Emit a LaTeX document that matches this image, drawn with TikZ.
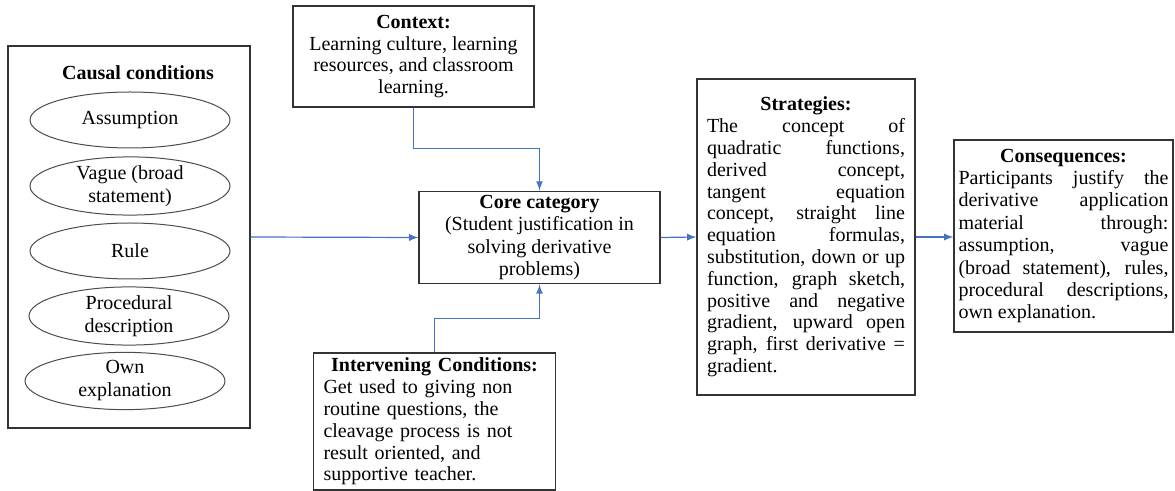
\documentclass[tikz,border=0pt]{standalone}
\usepackage{fontspec}
\setmainfont{Liberation Serif}
\usetikzlibrary{positioning,shapes.geometric}
\setlength{\parindent}{0pt}
\definecolor{arrowblue}{RGB}{68,114,196}

\tikzset{
  box/.style={draw=black!80,line width=0.6pt,inner xsep=5pt,inner ysep=2pt},
  oval/.style={ellipse,draw=black!70,line width=0.5pt,minimum width=100pt,
    minimum height=28pt,inner sep=0pt,align=center},
  flow/.style={->,>=latex,draw=arrowblue,line width=0.6pt}
}

\begin{document}
\begin{tikzpicture}[x=0.5pt,y=-0.5pt,font=\fontsize{10}{10.9}\selectfont]
\useasboundingbox (0,0) rectangle (1175,491);
\node[box,minimum width=121pt,minimum height=191pt] (causal) at (129,237) {};
\node (causaltitle) at (138,73) {\textbf{Causal conditions}};
\foreach \x/\y/\txt [count=\i] in {130/120/{Assumption},130/186/{Vague (broad\\statement)},
  130/251/{Rule},129/316/{Procedural\\description},125/381/{Own\\explanation}}
 \node[oval,font=\fontsize{10}{11.5}\selectfont] (cc\i) at (\x,\y) {\txt};
\node[box,minimum width=120.5pt,minimum height=50.5pt,align=center] (context) at (413.5,56.5)
 {\textbf{Context:}\\Learning culture, learning\\resources, and classroom\\learning.};
\node[box,minimum width=120.5pt,minimum height=45.5pt,align=center,
 font=\fontsize{10}{11.2}\selectfont] (core) at (539.5,237.5)
 {\textbf{Core category}\\(Student justification in\\solving derivative\\problems)};
\node[box,text width=111pt,minimum height=68.5pt,align=left] (interv) at (434.5,421.5)
 {\hfill\textbf{Intervening Conditions:}\hfill\null\\Get used to giving non\\routine questions, the\\cleavage process is not\\result oriented, and\\supportive teacher.};
\node[box,text width=99pt,minimum height=158pt,align=justify] (strat) at (806,237)
 {\hfill\textbf{Strategies:}\hfill\null\linebreak
 The concept of\linebreak quadratic functions,\linebreak derived concept,\linebreak
 tangent equation\linebreak concept, straight line\linebreak equation formulas,\linebreak
 substitution, down or up\linebreak function, graph sketch,\linebreak
 positive and negative\linebreak gradient, upward open\linebreak
 graph, first derivative =\linebreak gradient.};
\node[box,text width=105pt,minimum height=96pt,align=justify,inner xsep=2.25pt,
 font=\fontsize{10}{11.2}\selectfont] (conseq) at (1063.5,236)
 {\hfill\textbf{Consequences:}\hfill\null\linebreak
 Participants justify the\linebreak derivative application\linebreak
 material through:\linebreak assumption, vague\linebreak
 (broad statement), rules,\linebreak procedural descriptions,\linebreak
 own explanation.};
\draw[flow] (causal.east) -- (core.west);
\draw[flow] (context.south) -- ++(0,41) -| (core.north);
\draw[flow] (interv.north) -- ++(0,-34) -| (core.south);
\draw[flow] (core.east) -- (strat.west);
\draw[flow] (strat.east) -- (strat.east -| conseq.west);
\end{tikzpicture}
\end{document}
